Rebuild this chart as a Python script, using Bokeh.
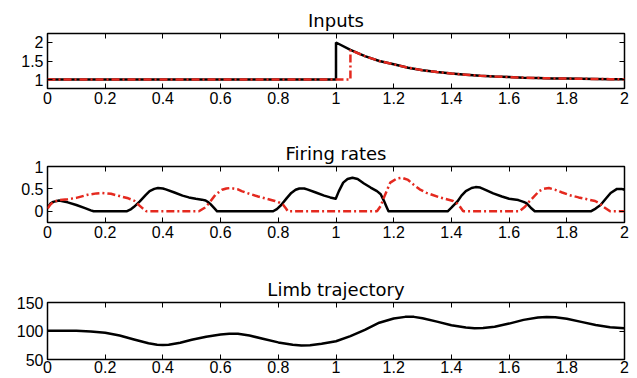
from bokeh.plotting import figure
from bokeh.layouts import column
from bokeh.models import LinearAxis, FixedTicker, Range1d
from bokeh.embed import file_html
from bokeh.resources import INLINE

# ---------------- data ----------------
x_ticks = [0, 0.2, 0.4, 0.6, 0.8, 1, 1.2, 1.4, 1.6, 1.8, 2]
x_tick_labels = ["0", "0.2", "0.4", "0.6", "0.8", "1", "1.2", "1.4", "1.6", "1.8", "2"]

# Panel 1: inputs
inputs_t_black = [0, 1.0, 1.0, 1.05, 1.1, 1.15, 1.2, 1.25, 1.3, 1.35, 1.4, 1.45, 1.5,
                  1.55, 1.6, 1.65, 1.7, 1.75, 1.8, 1.85, 1.9, 1.95, 2.0]
inputs_black = [1, 1, 2.0, 1.80, 1.63, 1.50, 1.41, 1.32, 1.25, 1.20, 1.16, 1.13, 1.10,
                1.08, 1.065, 1.05, 1.04, 1.03, 1.025, 1.02, 1.015, 1.01, 1.01]
inputs_t_red = [0, 1.05, 1.05, 1.1, 1.15, 1.2, 1.25, 1.3, 1.35, 1.4, 1.45, 1.5,
                1.55, 1.6, 1.65, 1.7, 1.75, 1.8, 1.85, 1.9, 1.95, 2.0]
inputs_red = [1, 1, 1.80, 1.63, 1.50, 1.41, 1.32, 1.25, 1.20, 1.16, 1.13, 1.10,
              1.08, 1.065, 1.05, 1.04, 1.03, 1.025, 1.02, 1.015, 1.01, 1.01]
inputs_yticks = [1, 1.5, 2]
inputs_ylabels = ["1", "1.5", "2"]

# Panel 2: firing rates
rate_t_black = [0, 0.01, 0.02, 0.04, 0.07, 0.10, 0.13, 0.15, 0.16, 0.274, 0.29, 0.30, 0.32,
                0.34, 0.354, 0.37, 0.383, 0.40, 0.41, 0.44, 0.468, 0.49, 0.514, 0.535,
                0.548, 0.558, 0.565, 0.578, 0.588, 0.782, 0.795, 0.81, 0.83, 0.845, 0.86,
                0.873, 0.89, 0.90, 0.93, 0.959, 0.98, 0.999, 1.01, 1.025, 1.04, 1.057,
                1.075, 1.097, 1.12, 1.142, 1.155, 1.165, 1.175, 1.182, 1.387, 1.40, 1.421,
                1.435, 1.45, 1.47, 1.484, 1.50, 1.518, 1.545, 1.575, 1.60, 1.632, 1.65,
                1.66, 1.675, 1.689, 1.883, 1.90, 1.917, 1.935, 1.952, 1.974, 1.99, 2.0]
rate_black = [0.08, 0.17, 0.21, 0.24, 0.20, 0.14, 0.07, 0.02, 0.0, 0.0, 0.05, 0.10, 0.22,
              0.36, 0.45, 0.50, 0.52, 0.51, 0.49, 0.42, 0.35, 0.31, 0.28, 0.26,
              0.24, 0.20, 0.16, 0.07, 0.0, 0.0, 0.05, 0.14, 0.30, 0.41, 0.48,
              0.51, 0.51, 0.49, 0.42, 0.35, 0.31, 0.28, 0.45, 0.64, 0.72, 0.75,
              0.72, 0.62, 0.53, 0.45, 0.38, 0.25, 0.10, 0.0, 0.0, 0.08, 0.22,
              0.35, 0.45, 0.52, 0.54, 0.53, 0.48, 0.40, 0.33, 0.28, 0.25, 0.21,
              0.18, 0.08, 0.0, 0.0, 0.06, 0.14, 0.28, 0.41, 0.50, 0.50, 0.48]
rate_t_red = [0, 0.01, 0.02, 0.04, 0.07, 0.10, 0.14, 0.17, 0.19, 0.22, 0.25, 0.28, 0.30,
              0.315, 0.331, 0.343, 0.525, 0.545, 0.56, 0.582, 0.605, 0.62, 0.634, 0.66,
              0.673, 0.70, 0.73, 0.76, 0.788, 0.805, 0.816, 0.826, 0.833, 1.142, 1.155,
              1.165, 1.188, 1.21, 1.228, 1.25, 1.268, 1.29, 1.314, 1.36, 1.406, 1.42,
              1.43, 1.441, 1.635, 1.655, 1.67, 1.704, 1.72, 1.738, 1.76, 1.784, 1.81,
              1.841, 1.87, 1.898, 1.915, 1.927, 1.95, 2.0]
rate_red = [0.06, 0.15, 0.21, 0.25, 0.27, 0.30, 0.37, 0.40, 0.41, 0.39, 0.34, 0.29, 0.24,
            0.15, 0.06, 0.0, 0.0, 0.08, 0.18, 0.37, 0.48, 0.51, 0.52, 0.49,
            0.45, 0.39, 0.33, 0.28, 0.23, 0.19, 0.15, 0.07, 0.0, 0.0, 0.12,
            0.29, 0.64, 0.73, 0.75, 0.70, 0.60, 0.49, 0.41, 0.31, 0.23, 0.17,
            0.10, 0.0, 0.0, 0.10, 0.22, 0.45, 0.50, 0.52, 0.48, 0.42, 0.36,
            0.31, 0.27, 0.23, 0.17, 0.10, 0.0, 0.0]
rate_yticks = [0, 0.5, 1]
rate_ylabels = ["0", "0.5", "1"]

# Panel 3: limb trajectory
limb_t = [0, 0.05, 0.1, 0.15, 0.2, 0.25, 0.3, 0.35, 0.38, 0.40, 0.42, 0.46, 0.5, 0.55,
          0.6, 0.63, 0.66, 0.7, 0.75, 0.8, 0.85, 0.88, 0.91, 0.95, 1.0, 1.05, 1.1, 1.15,
          1.2, 1.24, 1.27, 1.3, 1.35, 1.4, 1.45, 1.48, 1.51, 1.55, 1.6, 1.65, 1.7, 1.73,
          1.76, 1.8, 1.85, 1.9, 1.95, 2.0]
limb = [100.5, 100.5, 100.3, 99.3, 97, 92, 85, 78.5, 76, 75.5, 76, 79.5, 84.5, 90,
        94, 95.3, 95, 92, 86, 80, 76, 74.7, 75, 77.5, 82, 91, 102, 114.5,
        122, 124.8, 124.8, 122.5, 116.5, 110, 106, 105, 105.3, 107.5, 113, 119.5, 123.5, 124.7,
        124.3, 121.5, 116, 110.5, 106.5, 105]
limb_yticks = [50, 100, 150]
limb_ylabels = ["50", "100", "150"]

RED = "#e4291f"
TICK_FONT = "Liberation Sans"
TITLE_FONT = "DejaVu Sans"


def make_fig(title, height, top, bottom, left, right, yr, yticks, ylabels, standoff):
    p = figure(width=637, height=height, x_range=Range1d(0, 2), y_range=Range1d(*yr),
               output_backend="svg", toolbar_location=None,
               min_border_top=top, min_border_bottom=bottom,
               min_border_left=left, min_border_right=right,
               x_axis_location=None, y_axis_location=None)
    p.title.text = title
    p.title.align = "center"
    p.title.text_font = TITLE_FONT
    p.title.text_font_size = "18px"
    p.title.text_font_style = "normal"
    p.title.text_color = "black"
    p.title.standoff = 6
    p.xgrid.visible = False
    p.ygrid.visible = False
    p.outline_line_color = "black"
    p.outline_line_width = 1.5
    p.outline_line_alpha = 1
    p.background_fill_color = "white"
    p.border_fill_color = "white"

    def style(ax, labels, show_labels, so):
        ax.axis_line_color = None
        ax.major_tick_in = 5
        ax.major_tick_out = 0
        ax.major_tick_line_color = "black"
        ax.major_tick_line_width = 1
        ax.minor_tick_line_color = None
        ax.major_label_text_font = TICK_FONT
        ax.major_label_standoff = so
        if show_labels:
            ax.major_label_text_font_size = "16px"
            ax.major_label_text_color = "black"
            ax.major_label_overrides = labels
        else:
            # mirrored tick marks only (MATLAB box style): labels not drawn
            ax.major_label_text_font_size = "1px"
            ax.major_label_text_color = None

    xlab = {t: l for t, l in zip(x_ticks, x_tick_labels)}
    ylab = {t: l for t, l in zip(yticks, ylabels)}
    xb = LinearAxis(ticker=FixedTicker(ticks=x_ticks))
    style(xb, xlab, True, standoff)
    p.add_layout(xb, "below")
    xa = LinearAxis(ticker=FixedTicker(ticks=x_ticks))
    style(xa, None, False, 0)
    p.add_layout(xa, "above")
    yl = LinearAxis(ticker=FixedTicker(ticks=yticks))
    style(yl, ylab, True, 4)
    p.add_layout(yl, "left")
    yrr = LinearAxis(ticker=FixedTicker(ticks=yticks))
    style(yrr, None, False, 0)
    p.add_layout(yrr, "right")
    return p


p1 = make_fig("Inputs", 128, 33, 40, 47, 12, (0.757, 2.243), inputs_yticks, inputs_ylabels, 3)
p1.line(inputs_t_black, inputs_black, line_color="black", line_width=2.5)
p1.line(inputs_t_red, inputs_red, line_color=RED, line_width=2.5, line_dash="8 3 2 3")

p2 = make_fig("Firing rates", 134, 38, 40, 43, 13, (-0.25, 1.0), rate_yticks, rate_ylabels, 3)
p2.line(rate_t_black, rate_black, line_color="black", line_width=2.5, line_join="round")
p2.line(rate_t_red, rate_red, line_color=RED, line_width=2.5, line_dash="8 3 2 3")

p3 = make_fig("Limb trajectory", 116, 40, 19, 43, 13, (50, 150), limb_yticks, limb_ylabels, 1)
p3.line(limb_t, limb, line_color="black", line_width=2.5, line_join="round")

layout = column(p1, p2, p3, spacing=0)

open("out.html", "w").write(file_html(layout, INLINE))
